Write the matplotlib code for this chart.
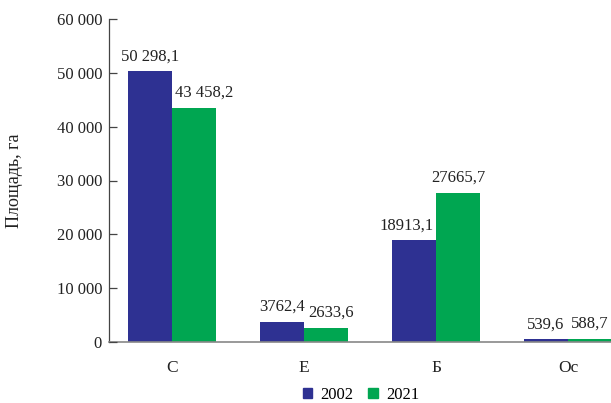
import matplotlib
matplotlib.use("Agg")
import matplotlib.pyplot as plt
import numpy as np
from matplotlib.patches import Patch

categories = ["С", "Е", "Б", "Ос"]
series_names = ["2002", "2021"]
values_2002 = [50298.1, 3762.4, 18913.1, 539.6]
values_2021 = [43458.2, 2633.6, 27665.7, 588.7]
labels_2002 = ["50 298,1", "3762,4", "18913,1", "539,6"]
labels_2021 = ["43 458,2", "2633,6", "27665,7", "588,7"]
yticks = [0, 10000, 20000, 30000, 40000, 50000, 60000]
ytick_labels = ["0", "10 000", "20 000", "30 000", "40 000", "50 000", "60 000"]
ylabel = "Площадь, га"

colors = ["#2E3192", "#00A651"]
# horizontal nudges (px) of value labels, as placed in the original
nudge_2002 = [0, 0, -7, 0]
nudge_2021 = [10, 5, 0, 0]

plt.rcParams['font.family'] = ['Liberation Serif', 'DejaVu Serif']
fs = 12
tc = "#222222"

W, H = 611, 403
fig = plt.figure(figsize=(W / 100, H / 100), dpi=100)
ax = fig.add_axes([109 / W, (H - 342) / H, (W - 109) / W, (342 - 19) / H])

x = np.arange(len(categories))
bw = 0.333
b1 = ax.bar(x - bw / 2, values_2002, bw, color=colors[0], label=series_names[0])
b2 = ax.bar(x + bw / 2, values_2021, bw, color=colors[1], label=series_names[1])

for rects, labs, nudges in ((b1, labels_2002, nudge_2002), (b2, labels_2021, nudge_2021)):
    for r, t, n in zip(rects, labs, nudges):
        ax.annotate(t, (r.get_x() + r.get_width() / 2, r.get_height()),
                    xytext=(n * 0.72, 5), textcoords="offset points",
                    ha="center", va="bottom", fontsize=fs, color=tc)

ax.set_xlim(-0.477, 3 + (611 - 568) / 132)
ax.set_ylim(0, 60000)
ax.set_yticks(yticks)
ax.set_yticklabels(ytick_labels, fontsize=fs, color=tc)
ax.set_xticks(x)
ax.set_xticklabels(categories, fontsize=fs + 0.5, color=tc)
ax.tick_params(axis="x", length=0, pad=13)
ax.tick_params(axis="y", direction="in", length=5.5, width=0.9, color="#444444", pad=5)

for s in ("top", "right"):
    ax.spines[s].set_visible(False)
ax.spines["left"].set_color("#444444")
ax.spines["left"].set_linewidth(0.9)
ax.spines["bottom"].set_color("#888888")
ax.spines["bottom"].set_linewidth(1.2)
ax.set_axisbelow(False)

fig.text(15 / W, 1 - 181 / H, ylabel, rotation=90, ha="center", va="center",
         fontsize=13, color=tc)

handles = [Patch(facecolor=c, edgecolor=c) for c in colors]
fig.legend(handles, series_names, loc="center", bbox_to_anchor=(361 / W, 1 - 395 / H),
           ncol=2, frameon=False, fontsize=fs, handlelength=0.55, handleheight=0.55,
           handletextpad=0.5, columnspacing=0.9, borderpad=0)

fig.savefig("out.png", dpi=100)
